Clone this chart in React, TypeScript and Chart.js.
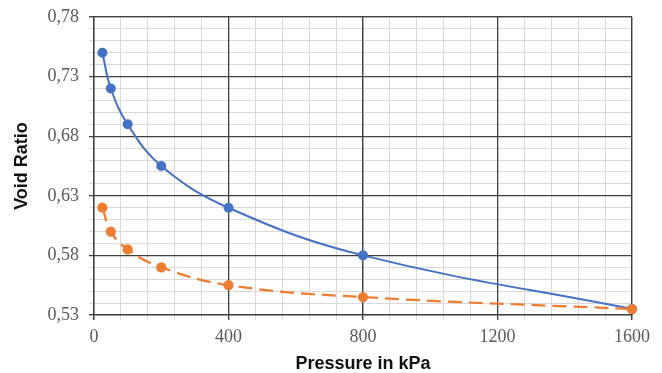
import { useEffect, useRef } from "react";
import { Chart, registerables } from "chart.js";

Chart.register(...registerables);

const pressure = [25, 50, 100, 200, 400, 800, 1600];
const voidRatioA = [0.75, 0.72, 0.69, 0.655, 0.62, 0.58, 0.535];
const voidRatioB = [0.62, 0.6, 0.585, 0.57, 0.555, 0.545, 0.535];
const xMajorTicks = [0, 400, 800, 1200, 1600];
const yMajorTicks = [0.53, 0.58, 0.63, 0.68, 0.73, 0.78];
const xMinorStep = 80;
const yMinorStep = 0.01;

const isXMajor = (v: number) => xMajorTicks.some((t) => Math.abs(t - v) < 1e-6);
const isYMajor = (v: number) => yMajorTicks.some((t) => Math.abs(t - v) < 1e-6);

const MAJOR = "#404040";
const MINOR = "#d9d9d9";
const MAJOR_W = 1.3;
const TICK_LEN = 5;

const alignPixel = (pixel: number, width: number) => {
  const half = width / 2;
  return Math.round(pixel - half) + half;
};

const majorGridPlugin = {
  id: "majorGrid",
  beforeDatasetsDraw(chart: any) {
    const { ctx, chartArea, scales } = chart;
    ctx.save();
    ctx.strokeStyle = MAJOR;
    ctx.lineWidth = MAJOR_W;
    ctx.setLineDash([]);
    ctx.beginPath();
    for (const v of xMajorTicks) {
      const px = alignPixel(scales.x.getPixelForValue(v), MAJOR_W);
      ctx.moveTo(px, chartArea.top);
      ctx.lineTo(px, chartArea.bottom + TICK_LEN);
    }
    for (const v of yMajorTicks) {
      const py = alignPixel(scales.y.getPixelForValue(v), MAJOR_W);
      ctx.moveTo(chartArea.left - TICK_LEN, py);
      ctx.lineTo(chartArea.right, py);
    }
    ctx.stroke();
    ctx.restore();
  },
};

export default function App() {
  const ref = useRef<HTMLCanvasElement>(null);

  useEffect(() => {
    document.body.style.margin = "0";
    const canvas = ref.current;
    if (!canvas) return;
    const xMin = xMajorTicks[0];
    const xMax = xMajorTicks[xMajorTicks.length - 1];
    const yMin = yMajorTicks[0];
    const yMax = yMajorTicks[yMajorTicks.length - 1];

    const chart = new Chart(canvas, {
      type: "line",
      plugins: [majorGridPlugin],
      data: {
        datasets: [
          {
            label: "A",
            data: pressure.map((p, i) => ({ x: p, y: voidRatioA[i] })),
            borderColor: "#4472C4",
            backgroundColor: "#4472C4",
            borderWidth: 2,
            pointRadius: 4,
            pointHoverRadius: 4,
            tension: 0.4,
            clip: false as any,
            order: 1,
          },
          {
            label: "B",
            data: pressure.map((p, i) => ({ x: p, y: voidRatioB[i] })),
            borderColor: "#ED7D31",
            backgroundColor: "#ED7D31",
            borderWidth: 2.25,
            borderDash: [14, 7],
            pointRadius: 4,
            pointHoverRadius: 4,
            tension: 0.4,
            clip: false as any,
            order: 0,
          },
        ],
      },
      options: {
        animation: false,
        responsive: false,
        maintainAspectRatio: false,
        layout: { padding: { top: 17, right: 30, left: 0, bottom: 0 } },
        plugins: { legend: { display: false }, tooltip: { enabled: false } },
        scales: {
          x: {
            type: "linear",
            min: xMin,
            max: xMax,
            afterBuildTicks: (scale: any) => {
              const t = [];
              for (let v = xMin; v <= xMax + 1e-6; v += xMinorStep) t.push({ value: v });
              scale.ticks = t;
            },
            afterFit: (scale: any) => {
              scale.height = 58;
            },
            ticks: {
              autoSkip: false,
              maxRotation: 0,
              padding: 6,
              color: "#595959",
              font: { family: "'Liberation Serif', 'Times New Roman', serif", size: 18 },
              callback: (value: any) => (isXMajor(Number(value)) ? String(value) : ""),
            },
            grid: {
              color: MINOR,
              lineWidth: 1,
              tickLength: TICK_LEN,
            },
            border: { color: MAJOR, width: MAJOR_W },
            title: {
              display: true,
              text: "Pressure in kPa",
              color: "#111111",
              font: { family: "'Liberation Sans', Arial, sans-serif", size: 18, weight: "bold", lineHeight: 1 },
              padding: { top: 0, bottom: 0 },
            },
          },
          y: {
            type: "linear",
            min: yMin,
            max: yMax,
            afterBuildTicks: (scale: any) => {
              const t = [];
              const n = Math.round((yMax - yMin) / yMinorStep);
              for (let i = 0; i <= n; i++) t.push({ value: Math.round((yMin + i * yMinorStep) * 1000) / 1000 });
              scale.ticks = t;
            },
            afterFit: (scale: any) => {
              scale.width = 94;
            },
            ticks: {
              autoSkip: false,
              padding: 10,
              color: "#595959",
              font: { family: "'Liberation Serif', 'Times New Roman', serif", size: 18, lineHeight: 0.6 },
              callback: (value: any) =>
                isYMajor(Number(value)) ? Number(value).toFixed(2).replace(".", ",") : "",
            },
            grid: {
              color: MINOR,
              lineWidth: 1,
              tickLength: TICK_LEN,
            },
            border: { color: MAJOR, width: MAJOR_W },
            title: {
              display: true,
              text: "Void Ratio",
              color: "#111111",
              font: { family: "'Liberation Sans', Arial, sans-serif", size: 18, weight: "bold" },
              padding: { top: 11, bottom: 0 },
            },
          },
        },
      },
    });
    return () => chart.destroy();
  }, []);

  return (
    <div style={{ position: "absolute", left: 0, top: 0, width: 662, height: 373 }}>
      <canvas ref={ref} width={662} height={373} />
    </div>
  );
}
